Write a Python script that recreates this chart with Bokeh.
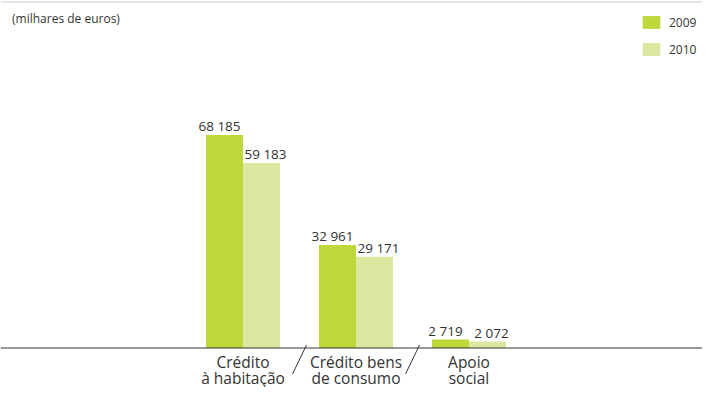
from bokeh.plotting import figure
from bokeh.models import Range1d, Span, Legend, LegendItem
from bokeh.core.properties import value
from bokeh.embed import file_html
from bokeh.resources import INLINE

# ---- data ----
categories = ["Crédito\nà habitação", "Crédito bens\nde consumo", "Apoio\nsocial"]
years = ["2009", "2010"]
v2009 = [68185, 32961, 2719]
v2010 = [59183, 29171, 2072]
unit_note = "(milhares de euros)"

# ---- layout (pixels) ----
W, H = 702, 387
GROUP_PX = 113.0          # distance between category centres
FIRST_CENTER_PX = 242.5   # first category centre from the left edge
BASE_PX = 347.5           # zero line, from the top
TALLEST_PX = 213.0        # height of the tallest bar
BAR_PX = 37.0

FONT = "Open Sans"
TXT = "#333333"
C2009 = "#bed73b"
C2010 = "#dce8a2"

vmax = max(v2009 + v2010)
val_per_px = vmax / TALLEST_PX
x_start = -FIRST_CENTER_PX / GROUP_PX
x_end = x_start + W / GROUP_PX
y_end = BASE_PX * val_per_px
y_start = -(H - BASE_PX) * val_per_px


def ypx(fy):
    return y_end - fy * val_per_px


def xw(px):
    return px / GROUP_PX


p = figure(width=W, height=H, output_backend="svg", toolbar_location=None,
           x_range=Range1d(x_start, x_end), y_range=Range1d(y_start, y_end),
           min_border=0, tools="")
p.xaxis.visible = False
p.yaxis.visible = False
p.grid.visible = False
p.outline_line_color = None
p.background_fill_color = "white"
p.border_fill_color = "white"

idx = list(range(len(categories)))
bw = xw(BAR_PX)
x09 = [i - bw / 2 for i in idx]
x10 = [i + bw / 2 for i in idx]

r09 = p.vbar(x=x09, top=v2009, bottom=0, width=bw, fill_color=C2009, line_color=None)
r10 = p.vbar(x=x10, top=v2010, bottom=0, width=bw, fill_color=C2010, line_color=None)


def fmt(v):
    return f"{v:,}".replace(",", " ")


p.text(x=x09, y=v2009, text=[fmt(v) for v in v2009], text_align="center",
       text_baseline="alphabetic", y_offset=-9, x_offset=-5,
       text_font=value(FONT), text_font_size="13.5px", text_color=TXT)
p.text(x=x10, y=v2010, text=[fmt(v) for v in v2010], text_align="center",
       text_baseline="alphabetic", y_offset=-9, x_offset=4,
       text_font=value(FONT), text_font_size="13.5px", text_color=TXT)

# zero line and top rule
p.add_layout(Span(location=0, dimension="width", line_color="#333333", line_width=1))
p.add_layout(Span(location=ypx(1.5), dimension="width", line_color="#cccccc", line_width=1))

# category labels (two lines)
line1 = [c.split("\n")[0] for c in categories]
line2 = [c.split("\n")[1] for c in categories]
p.text(x=idx, y=[ypx(361.5)] * len(idx), text=line1, text_align="center",
       text_baseline="alphabetic", text_font=value(FONT), text_font_size="15.5px",
       text_color=TXT)
p.text(x=idx, y=[ypx(377.0)] * len(idx), text=line2, text_align="center",
       text_baseline="alphabetic", text_font=value(FONT), text_font_size="15.5px",
       text_color=TXT)

# slashes between categories
sep = [i + 0.5 for i in idx[:-1]]
p.segment(x0=[s + xw(7) for s in sep], y0=[ypx(BASE_PX - 3)] * len(sep),
          x1=[s - xw(7) for s in sep], y1=[ypx(BASE_PX + 26)] * len(sep),
          line_color="#333333", line_width=1)

# unit note
p.text(x=[x_start + xw(11.5)], y=[ypx(17.5)], text=[unit_note], text_align="left",
       text_baseline="middle", text_font=value(FONT), text_font_size="12px", text_color=TXT)

LEG_TOP = 15.7
LEG_H = 16 + 10 + 16
legend = Legend(items=[LegendItem(label=years[0], renderers=[r09]),
                       LegendItem(label=years[1], renderers=[r10])],
                location=(640, H - LEG_TOP - LEG_H), glyph_width=22, glyph_height=16,
                label_height=16, spacing=10, padding=0, label_standoff=7,
                border_line_color=None, background_fill_alpha=0,
                label_text_font=FONT, label_text_font_size="12px", label_text_color=TXT)
p.add_layout(legend)

open("out.html", "w").write(file_html(p, INLINE))
